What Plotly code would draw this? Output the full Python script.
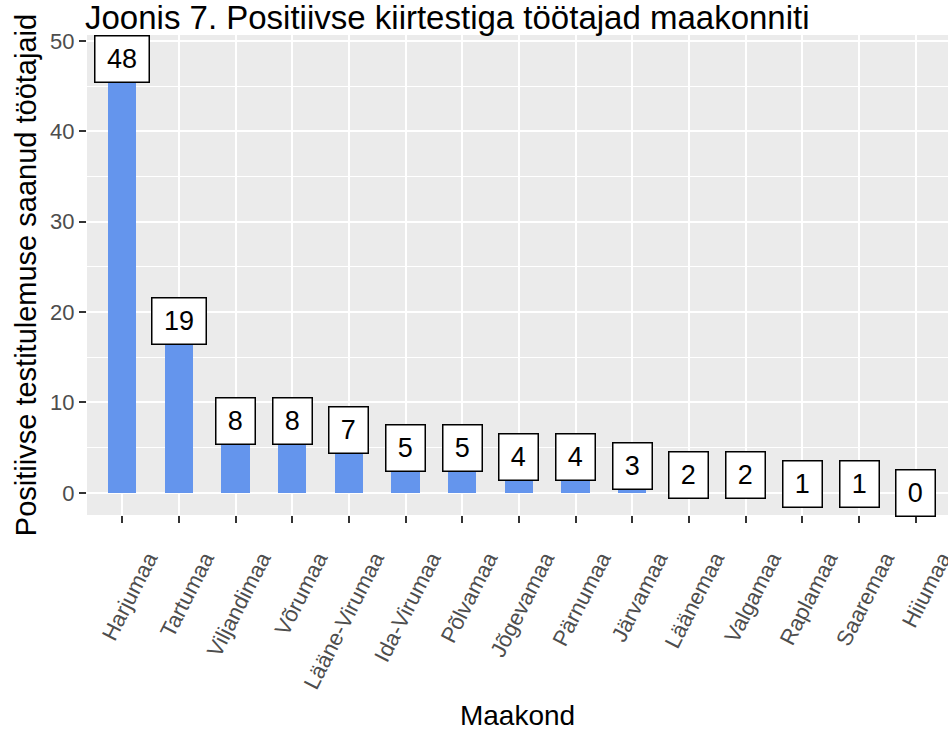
import plotly.graph_objects as go

categories = ["Harjumaa", "Tartumaa", "Viljandimaa", "Võrumaa", "Lääne-Virumaa",
              "Ida-Virumaa", "Põlvamaa", "Jõgevamaa", "Pärnumaa", "Järvamaa",
              "Läänemaa", "Valgamaa", "Raplamaa", "Saaremaa", "Hiiumaa"]
values = [48, 19, 8, 8, 7, 5, 5, 4, 4, 3, 2, 2, 1, 1, 0]
y_ticks = [0, 10, 20, 30, 40, 50]

title_text = "Joonis 7. Positiivse kiirtestiga töötajad maakonniti"
x_title = "Maakond"
y_title = "Positiivse testitulemuse saanud töötajaid"

FONT = "Liberation Sans, Arial, sans-serif"

fig = go.Figure()
fig.add_trace(go.Bar(
    x=categories, y=values, width=0.5,
    marker=dict(color="#6495ED", line=dict(width=0)),
    hoverinfo="x+y",
))

for c, v in zip(categories, values):
    s = str(v)
    fig.add_annotation(
        x=c, y=v, text=s, showarrow=False,
        xanchor="center", yanchor="middle",
        font=dict(family=FONT, size=27, color="black"),
        bgcolor="white", bordercolor="black", borderwidth=1.5, borderpad=3,
        width=len(s) * 15.5 + 16, height=39,
    )

W, H = 948, 731
fig.update_layout(
    width=W, height=H,
    paper_bgcolor="white", plot_bgcolor="#EBEBEB",
    margin=dict(l=87, r=0, t=35, b=216, autoexpand=False),
    showlegend=False,
    bargap=0,
    title=dict(text=title_text, x=85 / W, xanchor="left", xref="container",
               y=1 - 17 / H, yref="container", yanchor="middle",
               font=dict(family=FONT, size=33, color="black")),
    font=dict(family=FONT),
)

fig.update_xaxes(
    type="category", range=[-0.62, 14.57], automargin=False,
    showgrid=True, gridcolor="white", gridwidth=2,
    ticks="outside", ticklen=7, tickwidth=1.5, tickcolor="#333333",
    tickangle=-63, tickfont=dict(family=FONT, size=22, color="#4D4D4D"),
    ticklabelstandoff=14, ticklabelshift=26,
    showline=False, zeroline=False,
    title=dict(text=x_title, font=dict(family=FONT, size=28, color="black"), standoff=40),
)
fig.update_yaxes(
    range=[-2.45, 50.65], tickvals=y_ticks, automargin=False,
    showgrid=True, gridcolor="white", gridwidth=2,
    minor=dict(tickvals=[5, 15, 25, 35, 45], showgrid=True, gridcolor="white", gridwidth=1, ticks=""),
    ticks="outside", ticklen=7, tickwidth=1.5, tickcolor="#333333",
    tickfont=dict(family=FONT, size=22, color="#4D4D4D"),
    showline=False, zeroline=False,
    title=dict(text=y_title, font=dict(family=FONT, size=29, color="black"), standoff=4),
)

fig.write_html("out.html", config={"displayModeBar": False},
               post_script="document.body.style.margin='0';")
